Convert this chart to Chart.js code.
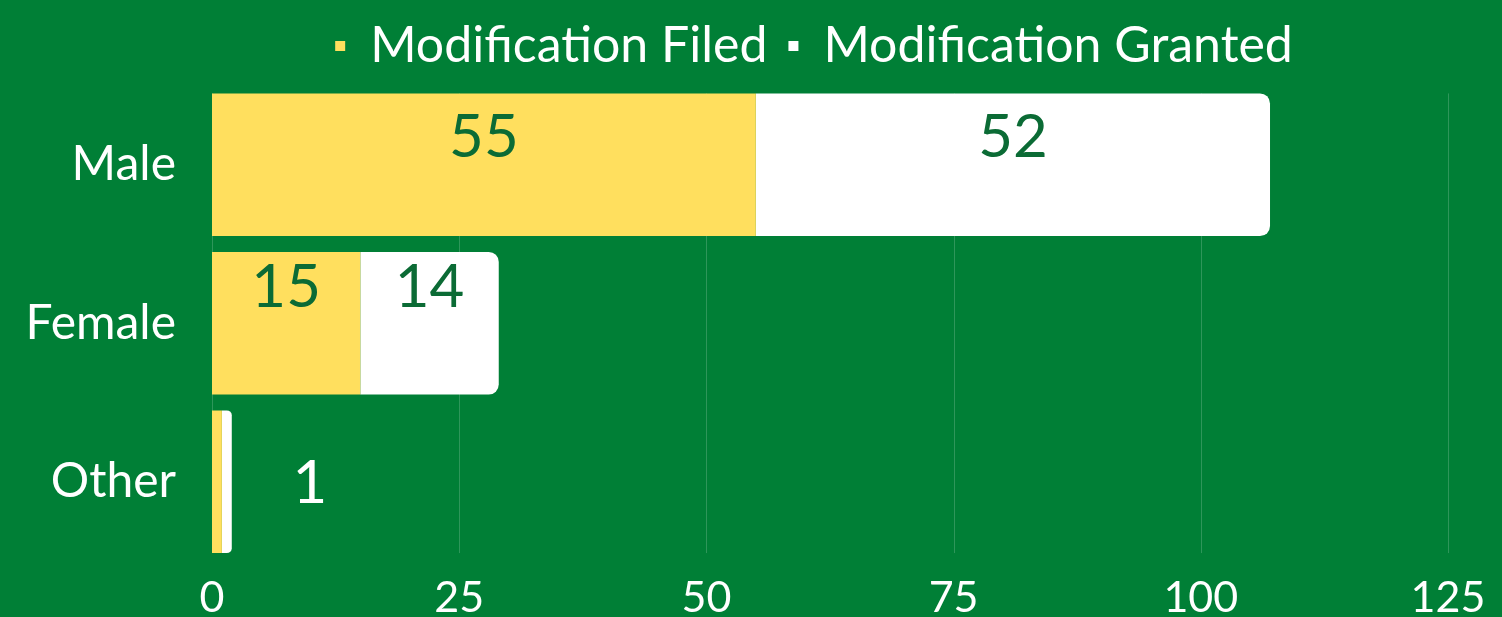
<!DOCTYPE html>
<html>
<head>
<meta charset="utf-8">
<script src="https://cdn.jsdelivr.net/npm/chart.js@4"></script>
<style>
    html, body { margin: 0; padding: 0; background: #007f36; overflow: hidden; }
    /* canvas runs a little past the window so the axis labels land low enough */
    #wrap { width: 1502px; height: 636px; }
</style>
</head>
<body>
<div id="wrap"><canvas id="myChart"></canvas></div>
<script>
// Chart data
const categories = ['Male', 'Female', 'Other'];
const filed = [55, 15, 1];
const granted = [52, 14, 1];
const seriesNames = ['Modification Filed', 'Modification Granted'];

const GREEN = '#007f36';
const YELLOW = '#ffdf5e';
const LABEL_GREEN = '#0b6b35';

// legend position, grid lines that stop at the bars, numbers on the bars
const barLabels = {
    id: 'barLabels',
    afterLayout(chart) {
        // legend sits centred over the plot, not the whole canvas
        const lg = chart.legend;
        lg.left = chart.chartArea.left - 32;
        lg.right = chart.chartArea.right;
        lg.top -= 4.5;
        lg.bottom -= 4.5;
    },
    beforeDatasetsDraw(chart) {
        const ctx = chart.ctx;
        const x = chart.scales.x;
        const bars = chart.getDatasetMeta(0).data;
        const first = bars[0], last = bars[bars.length - 1];
        const top = first.y - first.height / 2;
        const bottom = last.y + last.height / 2;
        ctx.save();
        ctx.strokeStyle = 'rgba(255,255,255,0.18)';
        ctx.lineWidth = 1;
        x.ticks.forEach(t => {
            const px = Math.round(x.getPixelForValue(t.value)) + 0.5;
            ctx.beginPath();
            ctx.moveTo(px, top);
            ctx.lineTo(px, bottom);
            ctx.stroke();
        });
        ctx.restore();
    },
    afterDatasetsDraw(chart) {
        const ctx = chart.ctx;
        ctx.save();
        ctx.font = '60px Lato';
        ctx.textAlign = 'center';
        ctx.textBaseline = 'middle';
        chart.data.datasets.forEach((ds, di) => {
            chart.getDatasetMeta(di).data.forEach((bar, i) => {
                const w = Math.abs(bar.x - bar.base);
                if (w < 30) {
                    if (di !== 1) return;
                    ctx.fillStyle = '#ffffff';
                    ctx.fillText(ds.data[i], bar.x + 78, bar.y + 2);
                    return;
                }
                ctx.fillStyle = LABEL_GREEN;
                const cx = (bar.x + bar.base) / 2;
                const off = i === 0 ? -27 : -36;
                ctx.fillText(ds.data[i], cx, bar.y + off);
            });
        });
        ctx.restore();
    }
};

let myChart = new Chart(document.getElementById('myChart'), {
    type: 'bar',
    data: {
        labels: categories,
        datasets: [{
            label: seriesNames[0],
            data: filed,
            backgroundColor: YELLOW,
            borderWidth: 0,
            borderRadius: 0,
            barPercentage: 0.9,
            categoryPercentage: 1
        }, {
            label: seriesNames[1],
            data: granted,
            backgroundColor: '#ffffff',
            borderWidth: 0,
            borderRadius: 10,
            barPercentage: 0.9,
            categoryPercentage: 1
        }]
    },
    options: {
        indexAxis: 'y',
        responsive: true,
        maintainAspectRatio: false,
        animation: false,
        layout: { padding: { left: 0, right: 54, top: 4.5, bottom: 0 } },
        plugins: {
            legend: {
                position: 'top',
                labels: {
                    color: '#ffffff',
                    font: { family: 'Lato', size: 50 },
                    boxWidth: 10,
                    boxHeight: 10,
                    padding: 21,
                    generateLabels(chart) {
                        return chart.data.datasets.map((ds, i) => ({
                            text: ds.label,
                            fillStyle: ds.backgroundColor,
                            strokeStyle: ds.backgroundColor,
                            lineWidth: 0,
                            fontColor: '#ffffff',
                            datasetIndex: i
                        }));
                    }
                }
            },
            tooltip: { enabled: false }
        },
        scales: {
            x: {
                stacked: true,
                min: 0,
                max: 125,
                ticks: {
                    stepSize: 25,
                    color: '#ffffff',
                    font: { family: 'Lato', size: 43, lineHeight: 1 },
                    padding: 16
                },
                grid: { display: false, drawTicks: false },
                border: { display: false }
            },
            y: {
                stacked: true,
                afterFit(scale) { scale.width = 212; },
                ticks: {
                    color: '#ffffff',
                    font: { family: 'Lato', size: 48 },
                    padding: 36
                },
                grid: { display: false, drawTicks: false },
                border: { display: false }
            }
        }
    },
    plugins: [barLabels]
});
</script>
</body>
</html>
